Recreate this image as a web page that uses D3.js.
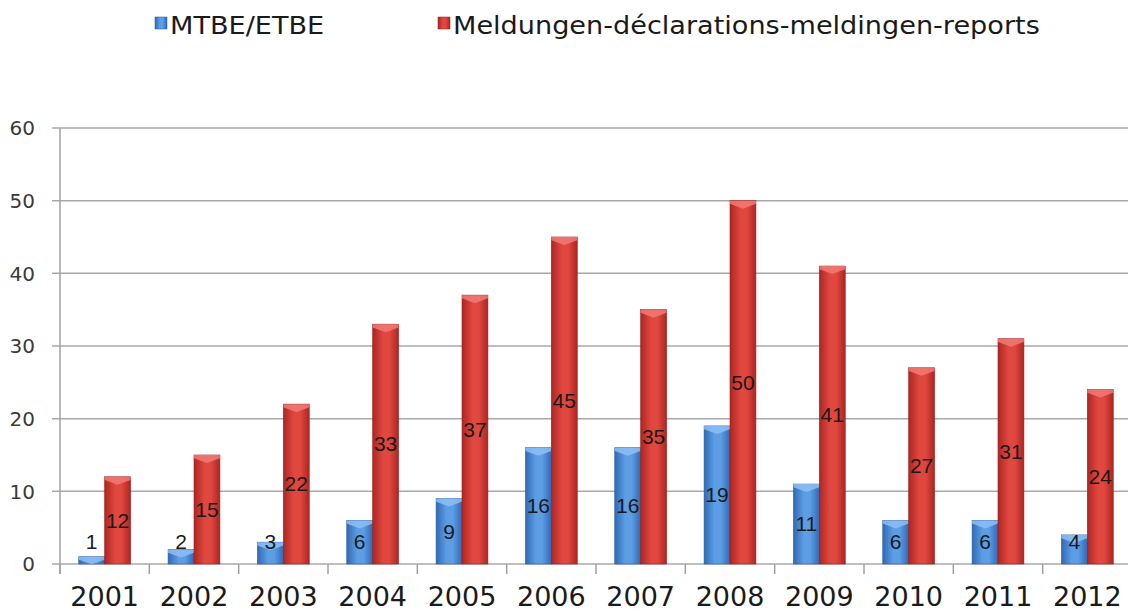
<!DOCTYPE html>
<html>
<head>
<meta charset="utf-8">
<script src="https://cdn.jsdelivr.net/npm/d3@7"></script>
<style>
  body { margin: 0; background: #fff; }
  svg { display: block; }
</style>
</head>
<body>
<div id="chart"></div>
<script>
// data
const years = ["2001", "2002", "2003", "2004", "2005", "2006", "2007", "2008", "2009", "2010", "2011", "2012"];
const mtbe = [1, 2, 3, 6, 9, 16, 16, 19, 11, 6, 6, 4];
const reports = [12, 15, 22, 33, 37, 45, 35, 50, 41, 27, 31, 24];
const yTicks = [0, 10, 20, 30, 40, 50, 60];
const seriesNames = ["MTBE/ETBE", "Meldungen-déclarations-meldingen-reports"];

const W = 1128, H = 611;
const margin = {top: 128, right: -4, bottom: 47, left: 60};
const width = W - margin.left - margin.right,
      height = H - margin.top - margin.bottom;

const svg = d3.select("#chart").append("svg")
    .attr("width", W)
    .attr("height", H);

// gradients for the rounded look of the bars
const defs = svg.append("defs");
function addGrad(id, edge, mid) {
    const g = defs.append("linearGradient").attr("id", id)
        .attr("x1", "0%").attr("x2", "100%").attr("y1", "0%").attr("y2", "0%");
    g.append("stop").attr("offset", "0%").attr("stop-color", edge);
    g.append("stop").attr("offset", "40%").attr("stop-color", mid);
    g.append("stop").attr("offset", "65%").attr("stop-color", mid);
    g.append("stop").attr("offset", "100%").attr("stop-color", edge);
}
addGrad("gBlue", "#3069b6", "#5c9de4");
addGrad("gRed", "#ad2622", "#e0473f");

const colors = [
    {fill: "url(#gBlue)", cap: "#8ec0f5", stroke: "#2a5c9f"},
    {fill: "url(#gRed)", cap: "#f27a76", stroke: "#9a1f1c"}
];

const g = svg.append("g")
    .attr("transform", `translate(${margin.left}, ${margin.top})`);

const x = d3.scaleBand()
    .domain(years)
    .range([0, width])
    .paddingInner(0.42)
    .paddingOuter(0.21);

const xs = d3.scaleBand()
    .domain([0, 1])
    .range([0, x.bandwidth()]);

const y = d3.scaleLinear()
    .domain([0, 60])
    .range([height, 0]);

// grid lines
g.append("g")
    .selectAll("line")
    .data(yTicks)
    .enter()
    .append("line")
    .attr("x1", -8)
    .attr("x2", width)
    .attr("y1", d => y(d))
    .attr("y2", d => y(d))
    .attr("stroke", "#a8a8a8")
    .attr("stroke-width", 1.5);

// y axis line
g.append("line")
    .attr("x1", 0).attr("x2", 0)
    .attr("y1", y(60)).attr("y2", height + 10)
    .attr("stroke", "#a0a0a0")
    .attr("stroke-width", 1.5);

// y labels
g.append("g")
    .selectAll("text")
    .data(yTicks)
    .enter()
    .append("text")
    .attr("x", -25)
    .attr("y", d => y(d))
    .attr("dy", "0.36em")
    .attr("text-anchor", "end")
    .style("font-family", "DejaVu Sans, Verdana, sans-serif")
    .style("font-size", "20px")
    .style("fill", "#3a3a3a")
    .text(d => d);

// x tick marks at band boundaries
const step = x.step();
g.append("g")
    .selectAll("line")
    .data(d3.range(years.length + 1))
    .enter()
    .append("line")
    .attr("x1", i => i * step)
    .attr("x2", i => i * step)
    .attr("y1", height)
    .attr("y2", height + 10)
    .attr("stroke", "#a0a0a0")
    .attr("stroke-width", 1.5);

// year labels
g.append("g")
    .selectAll("text")
    .data(years)
    .enter()
    .append("text")
    .attr("x", d => x(d) + x.bandwidth() / 2)
    .attr("y", height + 42)
    .attr("text-anchor", "middle")
    .style("font-family", "DejaVu Sans, Verdana, sans-serif")
    .style("font-size", "27px")
    .style("fill", "#1a1a1a")
    .text(d => d);

// bars
const series = [mtbe, reports];
series.forEach((vals, s) => {
    const bars = g.append("g");
    const items = years.map((yr, i) => ({yr: yr, v: vals[i]}));

    bars.selectAll("rect")
        .data(items)
        .enter()
        .append("rect")
        .attr("x", d => x(d.yr) + xs(s))
        .attr("y", d => y(d.v))
        .attr("width", xs.bandwidth())
        .attr("height", d => height - y(d.v))
        .attr("fill", colors[s].fill)
        .attr("stroke", colors[s].stroke)
        .attr("stroke-width", 0.6);

    // bevelled top
    bars.selectAll("polygon")
        .data(items)
        .enter()
        .append("polygon")
        .attr("points", d => {
            const x0 = x(d.yr) + xs(s), w = xs.bandwidth(), t = y(d.v);
            const cap = Math.min(8, height - t);
            return [[x0, t], [x0 + w, t], [x0 + w, t + cap * 0.4],
                    [x0 + w / 2, t + cap], [x0, t + cap * 0.4]].join(" ");
        })
        .attr("fill", colors[s].cap)
        .attr("opacity", 0.85);

    // value labels, centred in the bar, lifted when the bar is too short
    bars.selectAll("text")
        .data(items)
        .enter()
        .append("text")
        .attr("x", d => x(d.yr) + xs(s) + xs.bandwidth() / 2)
        .attr("y", d => Math.min((y(d.v) + height) / 2, height - 22))
        .attr("dy", "0.35em")
        .attr("text-anchor", "middle")
        .style("font-family", "Liberation Sans, Arial, sans-serif")
        .style("font-size", "21px")
        .style("fill", "#1a1a1a")
        .text(d => d.v);
});

// legend (text is drawn a little wide, like the reference)
const legend = svg.append("g");
const legX = [155, 438];
seriesNames.forEach((name, s) => {
    legend.append("rect")
        .attr("x", legX[s])
        .attr("y", 17)
        .attr("width", 12)
        .attr("height", 12)
        .attr("fill", colors[s].fill)
        .attr("stroke", colors[s].stroke)
        .attr("stroke-width", 0.5);
    legend.append("text")
        .attr("transform", `translate(${legX[s] + 15}, 34) scale(1.13, 1)`)
        .style("font-family", "DejaVu Sans, Verdana, sans-serif")
        .style("font-size", "24px")
        .style("fill", "#1a1a1a")
        .text(name);
});
</script>
</body>
</html>
